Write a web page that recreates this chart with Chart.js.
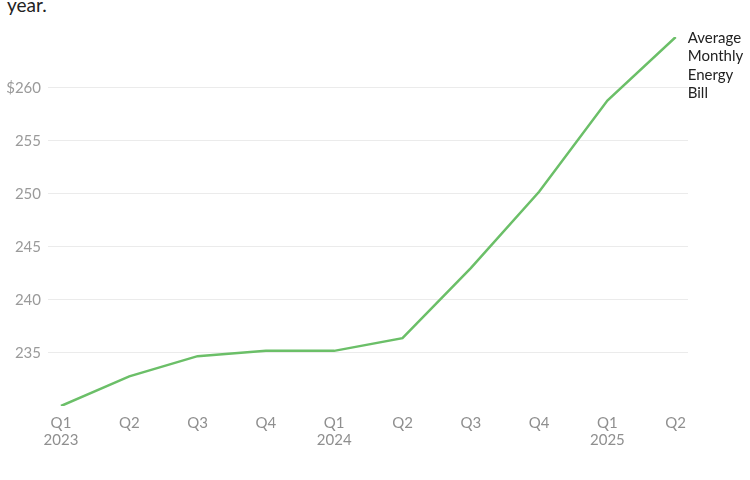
<!DOCTYPE html>
<html>
<head>
<meta charset="utf-8">
<script src="https://cdn.jsdelivr.net/npm/chart.js@4.4.1/dist/chart.umd.min.js"></script>
<style>
  html, body { margin: 0; padding: 0; background: #ffffff; }
  #wrap { position: relative; width: 750px; height: 480px; overflow: hidden; }
  #sub { position: absolute; left: 7px; top: -5px; font-family: Lato, sans-serif; font-size: 19px; line-height: 19px; color: #222; }
  canvas { position: absolute; left: 0; top: 0; }
</style>
</head>
<body>
<div id="wrap">
  <div id="sub">year.</div>
  <canvas id="c" width="750" height="480"></canvas>
</div>
<script>
const quarters = ['Q1','Q2','Q3','Q4','Q1','Q2','Q3','Q4','Q1','Q2'];
const years = ['2023','','','','2024','','','','2025',''];
const billValues = [230.0, 232.8, 234.7, 235.2, 235.2, 236.4, 243.0, 250.2, 258.8, 264.8];
const yTicks = [235, 240, 245, 250, 255, 260];
const seriesLabel = ['Average', 'Monthly', 'Energy', 'Bill'];

const labels = quarters.map((q, i) => years[i] ? [q, years[i]] : q);
const FONT = 'Lato, sans-serif';

const endLabel = {
  id: 'endLabel',
  afterDatasetsDraw(chart) {
    const meta = chart.getDatasetMeta(0);
    const pt = meta.data[meta.data.length - 1];
    const ctx = chart.ctx;
    ctx.save();
    ctx.font = '15px ' + FONT;
    ctx.fillStyle = '#222222';
    ctx.textAlign = 'left';
    ctx.textBaseline = 'middle';
    seriesLabel.forEach((t, i) => ctx.fillText(t, pt.x + 12, pt.y + 1 + i * 18.5));
    ctx.restore();
  }
};

new Chart(document.getElementById('c'), {
  type: 'line',
  data: {
    datasets: [{
      data: billValues.map((v, i) => ({ x: i, y: v })),
      borderColor: '#6bbf68',
      borderWidth: 2.5,
      pointRadius: 0,
      tension: 0,
      fill: false
    }]
  },
  options: {
    responsive: false,
    animation: false,
    events: [],
    layout: { padding: { top: 37, right: 62, bottom: 0, left: 0 } },
    plugins: { legend: { display: false }, tooltip: { enabled: false } },
    scales: {
      x: {
        type: 'linear',
        min: -0.19,
        max: labels.length - 1 + 0.18,
        grid: { display: false, drawTicks: false },
        border: { display: false },
        afterBuildTicks: s => { s.ticks = labels.map((_, i) => ({ value: i })); },
        afterFit: s => { s.height = 74; },
        ticks: {
          autoSkip: false,
          maxRotation: 0,
          padding: 9,
          color: '#8f8f8f',
          font: { family: FONT, size: 15, lineHeight: 1.1 },
          callback: v => labels[v]
        }
      },
      y: {
        min: Math.min(...billValues),
        max: Math.max(...billValues),
        afterBuildTicks: s => { s.ticks = yTicks.map(v => ({ value: v })); },
        afterFit: s => { s.width = 48; },
        grid: { color: '#ebebeb', lineWidth: 1, drawTicks: false },
        border: { display: false },
        ticks: {
          padding: 7,
          color: '#9a9a9a',
          font: { family: FONT, size: 15 },
          callback: v => v === yTicks[yTicks.length - 1] ? '$' + v : String(v)
        }
      }
    }
  },
  plugins: [endLabel]
});
</script>
</body>
</html>
